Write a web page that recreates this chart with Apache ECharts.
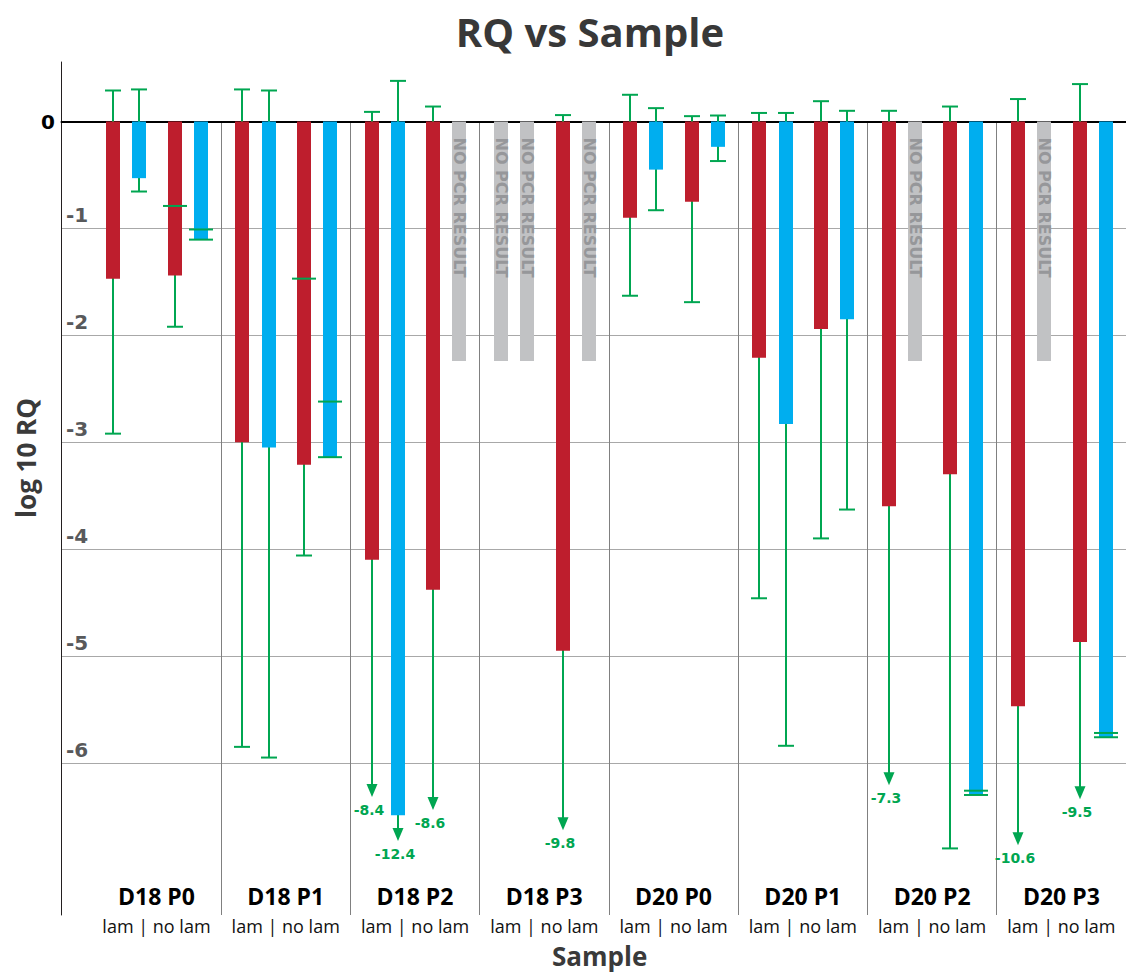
<!DOCTYPE html>
<html>
<head>
<meta charset="utf-8">
<title>RQ vs Sample</title>
<script src="https://cdn.jsdelivr.net/npm/echarts@6/dist/echarts.min.js"></script>
<style>
  html, body { margin: 0; padding: 0; background: #ffffff; }
  #chart { width: 1126px; height: 973px; }
</style>
</head>
<body>
<div id="chart"></div>
<script>
// ---- data -------------------------------------------------------------
const samples = ['D18 P0', 'D18 P1', 'D18 P2', 'D18 P3', 'D20 P0', 'D20 P1', 'D20 P2', 'D20 P3'];
const subLabel = 'lam | no lam';
const yTicks = [0, -1, -2, -3, -4, -5, -6];

// [log10 RQ, upper error bound, lower error bound]; null = no PCR result
const lamRed    = [[-1.47, 0.29, -2.92], [-3.00, 0.30, -5.85], [-4.10, 0.09, -8.4], null,
                   [-0.90, 0.25, -1.63], [-2.21, 0.08, -4.46], [-3.60, 0.10, -7.3], [-5.47, 0.21, -10.6]];
const lamBlue   = [[-0.53, 0.30, -0.655], [-3.05, 0.29, -5.95], [-6.49, 0.38, -12.4], null,
                   [-0.45, 0.125, -0.83], [-2.83, 0.08, -5.84], null, null];
const noLamRed  = [[-1.44, -0.79, -1.92], [-3.21, -1.47, -4.06], [-4.38, 0.14, -8.6], [-4.95, 0.06, -9.8],
                   [-0.75, 0.05, -1.69], [-1.94, 0.19, -3.90], [-3.30, 0.14, -6.80], [-4.87, 0.35, -9.5]];
const noLamBlue = [[-1.105, -1.01, -1.105], [-3.14, -2.62, -3.14], null, null,
                   [-0.237, 0.056, -0.37], [-1.85, 0.10, -3.63], [-6.30, -6.26, -6.30], [-5.76, -5.72, -5.76]];

// depth at which off-scale lower whiskers are cut and marked with an arrow
const lamRedCut    = [null, null, -6.32, null, null, null, -6.21, -6.77];
const lamBlueCut   = [null, null, -6.73, null, null, null, null, null];
const noLamRedCut  = [null, null, -6.44, -6.63, null, null, null, -6.34];
const noLamBlueCut = [null, null, null, null, null, null, null, null];

// placeholder depth of the "NO PCR RESULT" bars
const noResultDepth = -2.24;

// ---- style / layout ----------------------------------------------------
const RED = '#BE1E2D';
const BLUE = '#00AEEF';
const GREEN = '#00A651';
const GRAY_BAR = '#C1C2C4';
const GRAY_TEXT = '#96979A';

const ZERO_Y = 121.5;       // pixel row of log RQ = 0
const PX_PER_UNIT = 106.9;
const PLOT_TOP = 62;
const PLOT_BOTTOM = 915;
const CHART_H = 973;
const AXIS_X = 61.5;
const GROUP_LEFT = 91.8;
const GROUP_W = 129.6;

const Y_MAX = (ZERO_Y - PLOT_TOP) / PX_PER_UNIT;
const Y_MIN = -(PLOT_BOTTOM - ZERO_Y) / PX_PER_UNIT;

const BAR_W = 14;
const CAP_W = 16;
const CAP_W_IN_BAR = 24;
const ARROW_H = 13;
const ARROW_HALF = 5.5;

const slots = [
  { data: lamRed,    cut: lamRedCut,    color: RED,  offset: -0.336 },
  { data: lamBlue,   cut: lamBlueCut,   color: BLUE, offset: -0.133 },
  { data: noLamRed,  cut: noLamRedCut,  color: RED,  offset: 0.142 },
  { data: noLamBlue, cut: noLamBlueCut, color: BLUE, offset: 0.343 }
];

const rows = [];
samples.forEach((name, g) => {
  slots.forEach((slot, s) => {
    rows.push({ g: g, s: s, d: slot.data[g], cut: slot.cut[g] });
  });
});

function renderItem(params, api) {
  const r = rows[params.dataIndex];
  const slot = slots[r.s];
  const band = api.size([1, 0])[0];
  const base = api.coord([r.g, 0]);
  // snap to whole pixels so the 2px whiskers stay crisp
  const x = Math.round(base[0] + slot.offset * band);
  const y0 = base[1];
  const children = [];

  if (!r.d) {
    const yEnd = api.coord([r.g, noResultDepth])[1];
    children.push({
      type: 'rect',
      shape: { x: x - BAR_W / 2, y: y0, width: BAR_W, height: yEnd - y0 },
      style: { fill: GRAY_BAR }
    });
    children.push({
      type: 'text',
      x: x, y: y0 + 16,
      rotation: -Math.PI / 2,
      style: {
        text: 'NO PCR RESULT',
        fontFamily: 'DejaVu Sans', fontWeight: 'bold', fontSize: 16,
        fill: GRAY_TEXT, align: 'left', verticalAlign: 'middle'
      },
      z2: 3
    });
    return { type: 'group', children: children };
  }

  const v = r.d[0], hi = r.d[1], lo = r.d[2];
  const yv = api.coord([r.g, v])[1];
  const yHi = api.coord([r.g, hi])[1];
  const cut = r.cut;
  const yLo = api.coord([r.g, cut != null ? cut : lo])[1];

  // whisker (hidden behind the bar where they overlap)
  children.push({
    type: 'line',
    shape: { x1: x, y1: yHi, x2: x, y2: cut != null ? yLo - ARROW_H + 1 : yLo },
    style: { stroke: GREEN, lineWidth: 2 },
    z2: 1
  });
  // bar
  children.push({
    type: 'rect',
    shape: { x: x - BAR_W / 2, y: y0, width: BAR_W, height: yv - y0 },
    style: { fill: slot.color },
    z2: 2
  });
  // caps: wider when they sit on top of the bar
  const capWidth = (c) => (c <= 0 && c >= v - 1e-9) ? CAP_W_IN_BAR : CAP_W;
  const cap = (c, yc) => ({
    type: 'line',
    shape: { x1: x - capWidth(c) / 2, y1: yc, x2: x + capWidth(c) / 2, y2: yc },
    style: { stroke: GREEN, lineWidth: 2 },
    z2: 3
  });
  children.push(cap(hi, yHi));
  if (cut == null) {
    children.push(cap(lo, yLo));
  } else {
    children.push({
      type: 'polygon',
      shape: { points: [[x, yLo], [x - ARROW_HALF, yLo - ARROW_H], [x + ARROW_HALF, yLo - ARROW_H]] },
      style: { fill: GREEN },
      z2: 3
    });
    children.push({
      type: 'text',
      x: x - 3, y: yLo + 6,
      style: {
        text: String(lo),
        fontFamily: 'DejaVu Sans', fontWeight: 'bold', fontSize: 14,
        fill: GREEN, align: 'center', verticalAlign: 'top'
      },
      z2: 3
    });
  }
  return { type: 'group', children: children };
}

const chart = echarts.init(document.getElementById('chart'), null, { renderer: 'svg' });

chart.setOption({
  backgroundColor: '#ffffff',
  animation: false,
  title: {
    text: 'RQ vs Sample',
    left: 590,
    textAlign: 'center',
    top: 11.5,
    padding: 0,
    textStyle: {
      fontFamily: 'Open Sans', fontWeight: 'bold', fontSize: 40,
      lineHeight: 40, color: '#383838'
    }
  },
  grid: [
    // frame holding the full-height y axis line
    { left: AXIS_X, right: 0, top: PLOT_TOP, bottom: CHART_H - PLOT_BOTTOM },
    // sample groups
    { left: GROUP_LEFT, width: GROUP_W * samples.length, top: ZERO_Y, bottom: CHART_H - PLOT_BOTTOM },
    // horizontal grid lines, tick labels and zero line
    { left: AXIS_X, right: 0, top: ZERO_Y, height: PX_PER_UNIT * (Math.max(...yTicks) - Math.min(...yTicks)) }
  ],
  xAxis: [
    { gridIndex: 0, type: 'value', min: 0, max: 1, show: false },
    {
      gridIndex: 1, type: 'category', data: samples,
      axisLine: { show: false }, axisTick: { show: false },
      splitLine: {
        show: true, showMinLine: false, showMaxLine: false,
        lineStyle: { color: '#808080', width: 1 }
      },
      axisLabel: {
        interval: 0,
        margin: -34,
        formatter: (v) => '{a|' + v + '}\n{b|' + subLabel + '}',
        rich: {
          a: { fontFamily: 'Open Sans', fontWeight: 'bold', fontSize: 23, lineHeight: 30, color: '#000000' },
          b: { fontFamily: 'Open Sans', fontWeight: 'normal', fontSize: 18, lineHeight: 30, color: '#111111' }
        }
      }
    },
    {
      gridIndex: 2, type: 'value', min: 0, max: 1, position: 'top',
      axisLine: { show: true, onZero: false, lineStyle: { color: '#000000', width: 2 } },
      axisTick: { show: false }, axisLabel: { show: false }, splitLine: { show: false }
    }
  ],
  yAxis: [
    {
      gridIndex: 0, type: 'value', min: Y_MIN, max: Y_MAX,
      axisLine: { show: true, lineStyle: { color: '#231F20', width: 1 } },
      axisTick: { show: false }, axisLabel: { show: false }, splitLine: { show: false }
    },
    { gridIndex: 1, type: 'value', min: Y_MIN, max: 0, show: false },
    {
      gridIndex: 2, type: 'value', position: 'left',
      min: Math.min(...yTicks), max: Math.max(...yTicks), interval: 1,
      axisLine: { show: false }, axisTick: { show: false },
      splitLine: { show: true, showMaxLine: false, lineStyle: { color: '#A8A8A8', width: 1 } },
      axisLabel: {
        inside: true, margin: 4.5,
        formatter: (v) => (v === 0 ? '' : String(v)),
        verticalAlign: 'bottom', lineHeight: 20, padding: [0, 0, 3, 0],
        fontFamily: 'DejaVu Sans', fontWeight: 'bold', fontSize: 20, color: '#58595B'
      }
    },
    {
      gridIndex: 2, type: 'value', position: 'left',
      min: Math.min(...yTicks), max: Math.max(...yTicks), interval: 1,
      axisLine: { show: false }, axisTick: { show: false }, splitLine: { show: false },
      axisLabel: {
        margin: 6.5,
        formatter: (v) => (v === 0 ? '0' : ''),
        fontFamily: 'DejaVu Sans', fontWeight: 'bold', fontSize: 20, color: '#000000'
      }
    }
  ],
  graphic: [
    {
      type: 'text', x: 26, y: 458, rotation: Math.PI / 2,
      style: {
        text: 'log 10 RQ', fontFamily: 'Open Sans', fontWeight: 'bold', fontSize: 26,
        fill: '#3A3A3A', align: 'center', verticalAlign: 'middle'
      }
    },
    {
      type: 'text', x: 599.6, y: 956,
      style: {
        text: 'Sample', fontFamily: 'Open Sans', fontWeight: 'bold', fontSize: 26,
        fill: '#3A3A3A', align: 'center', verticalAlign: 'middle'
      }
    }
  ],
  series: [
    {
      type: 'custom',
      xAxisIndex: 1, yAxisIndex: 1,
      renderItem: renderItem,
      encode: { x: 0, y: 1 },
      data: rows.map((r) => [r.g, r.d ? r.d[0] : noResultDepth]),
      z: 5
    }
  ]
});
</script>
</body>
</html>
